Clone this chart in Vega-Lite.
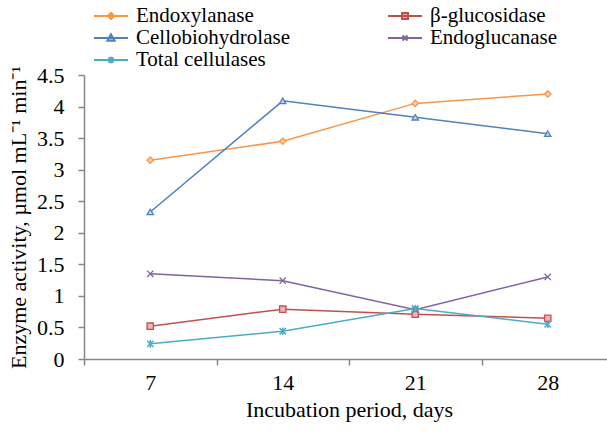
{
  "$schema": "https://vega.github.io/schema/vega-lite/v6.json",
  "width": 523,
  "height": 284,
  "autosize": {"type": "none"},
  "padding": {"left": 84, "top": 75, "right": 0, "bottom": 72},
  "background": "white",
  "config": {
    "font": "Liberation Serif",
    "view": {"stroke": null},
    "axis": {"grid": false, "domainColor": "#868686", "tickColor": "#868686", "labelColor": "#000000", "titleColor": "#000000", "labelFont": "Liberation Serif", "titleFont": "Liberation Serif", "labelFontSize": 22, "titleFontSize": 22, "titleFontWeight": "normal", "domainWidth": 1.5, "tickWidth": 1.5}
  },
  "data": {
    "values": [
      {"day": 7, "series": "Endoxylanase", "value": 3.15},
      {"day": 14, "series": "Endoxylanase", "value": 3.45},
      {"day": 21, "series": "Endoxylanase", "value": 4.05},
      {"day": 28, "series": "Endoxylanase", "value": 4.2},
      {"day": 7, "series": "β-glucosidase", "value": 0.52},
      {"day": 14, "series": "β-glucosidase", "value": 0.79},
      {"day": 21, "series": "β-glucosidase", "value": 0.71},
      {"day": 28, "series": "β-glucosidase", "value": 0.645},
      {"day": 7, "series": "Cellobiohydrolase", "value": 2.33},
      {"day": 14, "series": "Cellobiohydrolase", "value": 4.09},
      {"day": 21, "series": "Cellobiohydrolase", "value": 3.83},
      {"day": 28, "series": "Cellobiohydrolase", "value": 3.57},
      {"day": 7, "series": "Endoglucanase", "value": 1.35},
      {"day": 14, "series": "Endoglucanase", "value": 1.24},
      {"day": 21, "series": "Endoglucanase", "value": 0.78},
      {"day": 28, "series": "Endoglucanase", "value": 1.3},
      {"day": 7, "series": "Total cellulases", "value": 0.24},
      {"day": 14, "series": "Total cellulases", "value": 0.44},
      {"day": 21, "series": "Total cellulases", "value": 0.8},
      {"day": 28, "series": "Total cellulases", "value": 0.55}
    ]
  },
  "encoding": {
    "x": {
      "field": "day", "type": "ordinal", "sort": [7, 14, 21, 28],
      "scale": {"type": "band", "range": [0, 530], "paddingInner": 0, "paddingOuter": 0},
      "axis": {"title": "Incubation period, days", "labelAngle": 0, "tickBand": "extent", "tickSize": 6, "labelPadding": 7, "titlePadding": 6}
    },
    "y": {
      "field": "value", "type": "quantitative",
      "scale": {"domain": [0, 4.5], "nice": false},
      "axis": {"title": "Enzyme activity, µmol mL⁻¹ min⁻¹", "values": [0, 0.5, 1, 1.5, 2, 2.5, 3, 3.5, 4, 4.5], "format": "~g", "tickSize": 6, "labelPadding": 14, "titlePadding": 6}
    }
  },
  "layer": [
    {
      "mark": {"type": "line", "strokeWidth": 1.5},
      "encoding": {
        "color": {"field": "series", "type": "nominal",
          "scale": {"domain": ["Endoxylanase", "Cellobiohydrolase", "Total cellulases", "β-glucosidase", "Endoglucanase"], "range": ["#F79646", "#4F81BD", "#4BACC6", "#C0504D", "#8064A2"]},
          "legend": {
            "orient": "none", "legendX": 16, "legendY": -70, "columns": 2, "columnPadding": 94, "rowPadding": 1,
            "title": null, "symbolSize": 400, "symbolStrokeWidth": 2, "labelFontSize": 21, "labelLimit": 400, "labelFont": "Liberation Serif", "labelColor": "#000000", "labelOffset": 14,
            "encode": {
              "symbols": {
                "update": {
                  "shape": {"signal": "datum.value==='Endoxylanase' ? 'M-1.7,0L1.7,0M0,-0.32L0.32,0L0,0.32L-0.32,0Z' : datum.value==='β-glucosidase' ? 'M-1.7,0L1.7,0M-0.3,-0.3L0.3,-0.3L0.3,0.3L-0.3,0.3Z' : datum.value==='Cellobiohydrolase' ? 'M-1.7,0L1.7,0M0,-0.36L0.36,0.28L-0.36,0.28Z' : datum.value==='Endoglucanase' ? 'M-1.7,0L1.7,0M-0.25,-0.25L0.25,0.25M0.25,-0.25L-0.25,0.25' : 'M-1.7,0L1.7,0M-0.25,-0.25L0.25,0.25M0.25,-0.25L-0.25,0.25M0,-0.32L0,0.32'"},
                  "fill": {"signal": "datum.value==='Endoxylanase' ? '#FBD0AE' : datum.value==='β-glucosidase' ? '#F2B2B0' : datum.value==='Cellobiohydrolase' ? '#C6D6EC' : 'transparent'"},
                  "stroke": {"signal": "datum.value==='Endoxylanase' ? '#F79646' : datum.value==='β-glucosidase' ? '#C0504D' : datum.value==='Cellobiohydrolase' ? '#4F81BD' : datum.value==='Endoglucanase' ? '#8064A2' : '#4BACC6'"},
                  "strokeWidth": {"value": 2},
                  "opacity": {"value": 1}
                }
              }
            }
          }
        }
      }
    },
    {
      "transform": [{"filter": "datum.series === 'Endoxylanase'"}],
      "mark": {"type": "point", "shape": "diamond", "size": 40, "strokeWidth": 1.3, "opacity": 1, "filled": false, "stroke": "#F79646", "fill": "#FBD0AE"}
    },
    {
      "transform": [{"filter": "datum.series === 'β-glucosidase'"}],
      "mark": {"type": "point", "shape": "square", "size": 40, "strokeWidth": 1.3, "opacity": 1, "filled": false, "stroke": "#C0504D", "fill": "#F2B2B0"}
    },
    {
      "transform": [{"filter": "datum.series === 'Cellobiohydrolase'"}],
      "mark": {"type": "point", "shape": "triangle-up", "size": 40, "strokeWidth": 1.3, "opacity": 1, "filled": false, "stroke": "#4F81BD", "fill": "#C6D6EC"}
    },
    {
      "transform": [{"filter": "datum.series === 'Endoglucanase'"}],
      "mark": {"type": "point", "shape": "M-1,-1L1,1M1,-1L-1,1", "size": 40, "strokeWidth": 1.3, "opacity": 1, "filled": false, "stroke": "#8064A2", "fill": "transparent"}
    },
    {
      "transform": [{"filter": "datum.series === 'Total cellulases'"}],
      "mark": {"type": "point", "shape": "M-1,-1L1,1M1,-1L-1,1M0,-1.2L0,1.2", "size": 40, "strokeWidth": 1.5, "opacity": 1, "filled": false, "stroke": "#4BACC6", "fill": "#4BACC6"}
    }
  ]
}
